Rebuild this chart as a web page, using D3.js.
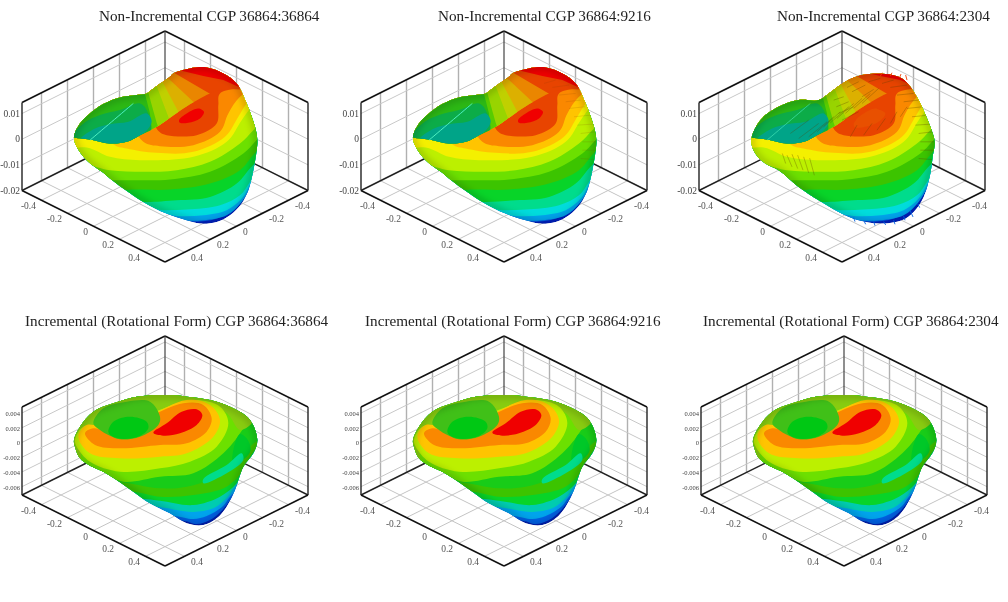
<!DOCTYPE html>
<html>
<head>
<meta charset="utf-8">
<script src="https://cdn.jsdelivr.net/npm/d3@7"></script>
<style>
  html, body { margin: 0; padding: 0; background: #fff; }
  svg { display: block; filter: blur(0.6px); }
</style>
</head>
<body>
<svg id="chart" width="1008" height="602"></svg>
<script>
// titles of the six panels
const titles = [
  'Non-Incremental CGP 36864:36864',
  'Non-Incremental CGP 36864:9216',
  'Non-Incremental CGP 36864:2304',
  'Incremental (Rotational Form) CGP 36864:36864',
  'Incremental (Rotational Form) CGP 36864:9216',
  'Incremental (Rotational Form) CGP 36864:2304'
];

// axis ticks
const xyTicks = [-0.4, -0.2, 0, 0.2, 0.4];
const zTicksTop = [-0.02, -0.01, 0, 0.01];
const zTicksBottom = [-0.006, -0.004, -0.002, 0, 0.002, 0.004];

// surface outlines and colour bands in the view plane of a panel
const nonIncOutline = [[222,410],[240,370],[270,340],[310,312],[360,292],[410,285],[440,280],[460,265],[510,230],[520,220],[570,205],[620,202],[670,220],[710,250],[740,310],[765,380],[772,420],[770,450],[760,510],[745,570],[725,610],[690,645],[650,665],[600,670],[560,660],[500,640],[430,605],[370,565],[330,535],[310,518],[260,480],[230,440]];
const coarseOutline = [[223,420],[250,360],[305,320],[365,300],[425,300],[455,280],[505,245],[555,225],[625,222],[675,235],[700,260],[730,310],[760,380],[773,425],[767,470],[760,520],[740,590],[710,635],[675,660],[605,670],[545,660],[485,635],[425,600],[365,560],[305,510],[265,490],[235,460]];
const incOutline = [[222,420],[240,380],[280,335],[340,310],[410,290],[510,285],[560,290],[630,300],[700,325],[750,360],[772,420],[760,460],[730,500],[705,570],[680,620],[650,655],[610,675],[560,670],[510,640],[450,610],[400,575],[350,540],[310,515],[270,497],[240,475],[225,440]];

const nonIncFront = [
  [[500,660],[600,664],[660,652],[705,622],[745,575],[800,500]],
  [[480,650],[540,660],[610,660],[680,645],[725,605],[755,555],[800,480]],
  [[470,640],[540,648],[610,645],[680,630],[725,595],[755,545],[800,475]],
  [[440,625],[490,630],[560,628],[660,615],[720,585],[750,545],[800,470]],
  [[400,600],[430,605],[530,600],[630,590],[710,550],[745,510],[800,440]],
  [[360,570],[400,568],[510,568],[630,550],[720,510],[755,470],[800,410]],
  [[340,540],[390,540],[510,538],[630,515],[730,460],[765,425],[800,380]],
  [[250,492],[330,510],[430,515],[530,510],[630,485],[720,430],[760,390],[800,350]],
  [[215,440],[300,478],[400,482],[580,480],[680,430],[730,370],[760,335],[800,290]],
  [[260,442],[330,470],[420,480],[580,470],[680,425],[725,360],[755,320],[800,280]],
  [[340,432],[380,445],[470,458],[580,455],[675,410],[715,350],[745,305],[800,270]],
  [[430,425],[480,438],[580,435],[660,395],[685,340],[720,290],[800,240]],
  [[478,395],[500,405],[590,405],[650,370],[655,315],[660,280],[800,240]]
];
const nonIncFrontColours = ['blue','sky','cyan','sea','green','olive','lime','yellowLime','yellowLime','yellow','amber','orange','darkOrange'];
const nonIncFold = [[180,400],[222,412],[270,418],[330,430],[380,425],[420,405],[478,375],[550,325],[630,280],[670,268],[730,268],[800,260],[820,100],[100,100]];
const nonIncBackBands = ['red','ochreOrange','ochre','ochreLime','limeDark','greenLime','bowlGreen','bowlMid','bowlTeal'];
const nonIncBack = [
  [[545,212],[610,228],[670,240],[720,262],[800,250],[820,100],[500,100]],
  [[500,205],[680,310],[400,650],[100,650],[100,100],[400,100]],
  [[480,222],[510,240],[580,305],[610,335],[400,650],[100,650],[100,100],[400,100]],
  [[478,228],[490,250],[535,335],[555,370],[400,650],[100,650],[100,100],[400,100]],
  [[455,235],[470,258],[505,350],[520,390],[400,650],[100,650],[100,100],[400,100]],
  [[430,250],[445,278],[470,368],[485,410],[400,650],[100,650],[100,100],[400,100]],
  [[425,260],[435,282],[450,340],[455,410],[440,460],[100,650],[100,100],[400,100]],
  [[200,430],[250,370],[300,345],[360,330],[420,310],[445,340],[450,400],[350,450],[250,450]],
  [[240,420],[285,385],[330,372],[385,365],[440,340],[455,365],[420,410],[370,430],[300,440]]
];
const nonIncEye = [[537,360],[560,340],[595,325],[612,335],[600,355],[565,368],[540,368]];
const nonIncSeam = [[270,420],[335,365],[400,310]];

const incBands = ['blue','sky','teal','green','olive','greenMid','lime','rim','yellowLime','amber','orange','red','bowlOuter','bowlInner'];
const incContours = [
  [[550,662],[590,672],[630,660],[665,632],[700,590],[800,500],[820,100],[100,100],[100,662]],
  [[520,648],[580,657],[620,648],[665,622],[695,585],[800,490],[820,100],[100,100],[100,648]],
  [[470,620],[530,630],[580,636],[640,625],[680,595],[705,560],[800,470],[820,100],[100,100],[100,620]],
  [[430,597],[480,602],[580,615],[660,590],[710,550],[735,510],[800,440],[820,100],[100,100],[100,597]],
  [[400,575],[480,590],[580,585],[680,560],[730,510],[750,470],[800,400],[820,100],[100,100],[100,575]],
  [[350,545],[480,565],[560,560],[640,535],[710,485],[750,440],[800,390],[820,100],[100,100],[100,545]],
  [[210,470],[310,520],[370,545],[480,530],[580,520],[670,460],[720,400],[735,370],[700,310],[600,270],[400,270],[250,330],[200,400]],
  [[205,480],[240,480],[240,420],[260,400],[330,400],[450,380],[600,320],[680,340],[720,390],[760,360],[700,290],[500,260],[300,280],[200,380]],
  [[225,420],[230,440],[270,485],[360,515],[480,505],[570,485],[650,440],[685,370],[660,320],[580,300],[450,340],[330,380],[250,380]],
  [[235,410],[270,460],[360,475],[480,470],[560,460],[640,410],[660,360],[630,315],[560,300],[440,350],[330,385],[260,375]],
  [[255,400],[285,435],[360,445],[480,435],[560,430],[620,395],[635,355],[610,315],[550,310],[450,350],[350,400],[280,385]],
  [[460,398],[500,370],[545,335],[590,328],[607,345],[590,375],[540,400],[490,407]],
  [[280,370],[310,325],[380,305],[450,305],[480,350],[475,375],[420,410],[360,418],[325,405],[300,390]],
  [[325,395],[340,365],[390,350],[440,365],[445,385],[420,408],[370,417],[335,408]]
];
const incBulge = [[700,450],[720,402],[740,415],[752,450],[735,475],[700,490]];
const incSea = [[610,537],[680,495],[725,460],[730,480],[680,520],[610,550]];

// coarse solution artefacts of the 2304 panel
const coarseEye = [[530,372],[555,345],[600,328],[625,340],[605,365],[565,380],[535,382]];
const coarseStreaks = [[330,465,345,500],[345,462,362,505],[362,465,378,510],[380,470,395,518],[398,474,412,525],[316,460,326,490],
  [470,300,500,290],[478,320,515,305],[485,340,530,320],[495,360,545,335],[510,262,545,245],[525,275,565,255],[555,290,590,268],[575,245,610,235],
  [615,250,650,240],[640,262,690,255],[660,285,710,280],[680,305,725,300],[690,325,738,320],[705,350,755,345],[715,375,762,372],[725,400,768,395],[730,425,770,425],[730,450,768,450],[725,475,765,478],
  [340,400,395,360],[365,415,425,370],[395,410,450,365],[420,395,470,350],[440,380,490,335],[460,368,515,320],[480,355,530,310],[505,340,555,295],[530,325,580,280],[555,310,605,265],
  [520,410,540,375],[560,405,585,370],[600,390,625,355],[640,370,660,335],[670,350,690,320]];
const coarseSpikes = [[530,652,534,664],[560,660,566,672],[590,664,594,676],[620,664,626,674],[650,660,654,672],[680,648,684,660],[700,632,708,650],[722,610,728,622]];
const coarseTopSpikes = [[640,228,645,218],[668,232,672,222],[690,240,686,225],[610,228,616,218]];

const width = 1008, height = 602;
const svg = d3.select('#chart');
const defs = svg.append('defs');
defs.append('filter').attr('id', 'soft').attr('x', '-20%').attr('y', '-20%').attr('width', '140%').attr('height', '140%')
  .append('feGaussianBlur').attr('stdDeviation', 3);

const bandColor = {
  blue: '#0060e4', sky: '#00a4ec', cyan: '#00dcdc', sea: '#00dc8c', teal: '#00ccb0', green: '#08d428',
  olive: '#3cc400', greenMid: '#18cc18', lime: '#6ce000', yellowLime: '#bcf000', yellow: '#f4f000',
  amber: '#ffc400', orange: '#fa8800', darkOrange: '#e84400', red: '#f00000',
  ochreOrange: '#ea8600', ochre: '#dcb000', ochreLime: '#c0d000', limeDark: '#98d400', greenLime: '#58cc00',
  bowlGreen: '#2cb814', bowlMid: '#0cac48', bowlTeal: '#00a488',
  rim: '#88cc10', bowlOuter: '#40c018', bowlInner: '#00c814'
};

// one panel: box from the x, y, z scales, surface from the view plane scales
function drawPanel(g, cx, top, bottom, wallTop, wallBottom, zDomain, zTicks, zFont, box) {
  const half = 143;
  const xy = d3.scaleLinear().domain([-1.1, 1.1]).range([cx - half, cx + half]);
  const floor = d3.scaleLinear().domain([-1.1, 1.1]).range([top + (wallBottom - wallTop), bottom]);
  const z = d3.scaleLinear().domain(zDomain).range([0, wallBottom - wallTop]);
  const px = (x, y) => xy(x - y);
  const py = (x, y, zv) => floor(x + y) - z(zv);
  const lim = 0.55, zMin = zDomain[0], zMax = zDomain[1];
  const seg = (a, b, color, w) => g.append('line')
    .attr('x1', px(a[0], a[1])).attr('y1', py(a[0], a[1], a[2]))
    .attr('x2', px(b[0], b[1])).attr('y2', py(b[0], b[1], b[2]))
    .attr('stroke', color).attr('stroke-width', w);

  // grid
  xyTicks.forEach(t => {
    seg([t, -lim, zMin], [t, lim, zMin], '#c4c4c4', 1);
    seg([-lim, t, zMin], [lim, t, zMin], '#c4c4c4', 1);
    seg([t, -lim, zMin], [t, -lim, zMax], '#b0b0b0', 1.4);
    seg([-lim, t, zMin], [-lim, t, zMax], '#b0b0b0', 1.4);
  });
  zTicks.forEach(t => {
    seg([-lim, lim, t], [-lim, -lim, t], '#c8c8c8', 1);
    seg([-lim, -lim, t], [lim, -lim, t], '#c8c8c8', 1);
  });

  // box edges
  seg([-lim, lim, zMax], [-lim, -lim, zMax], '#111', 1.6);
  seg([-lim, -lim, zMax], [lim, -lim, zMax], '#111', 1.6);
  seg([-lim, lim, zMin], [-lim, lim, zMax], '#222', 1.4);
  seg([lim, -lim, zMin], [lim, -lim, zMax], '#222', 1.4);
  seg([-lim, -lim, zMin], [-lim, -lim, zMax], '#333', 1.1);
  seg([-lim, lim, zMin], [-lim, -lim, zMin], '#222', 1.4);
  seg([-lim, -lim, zMin], [lim, -lim, zMin], '#222', 1.4);
  seg([-lim, lim, zMin], [lim, lim, zMin], '#111', 1.6);
  seg([lim, lim, zMin], [lim, -lim, zMin], '#111', 1.6);

  // tick labels
  const label = (x, y, s, anchor) => g.append('text')
    .attr('x', x).attr('y', y).attr('text-anchor', anchor)
    .attr('font-family', '"Liberation Serif", serif').attr('font-size', 9.5).attr('fill', '#555').text(s);
  xyTicks.forEach(t => {
    label(px(t, lim) - 5.5, py(t, lim, zMin) + 9, String(t), 'end');
    label(px(lim, t) + 6.5, py(lim, t, zMin) + 9, String(t), 'start');
  });
  zTicks.forEach(t => {
    g.append('text').attr('x', px(-lim, lim) - 2).attr('y', py(-lim, lim, t) + 3)
      .attr('text-anchor', 'end').attr('font-family', '"Liberation Serif", serif')
      .attr('font-size', zFont).attr('fill', '#444').text(String(t));
  });

  // surface
  const u = d3.scaleLinear().domain([66, 924]).range([cx - half, cx + half]);
  const v = d3.scaleLinear().domain(box).range([top, bottom]);
  const closed = d3.line().x(d => u(d[0])).y(d => v(d[1])).curve(d3.curveCatmullRomClosed.alpha(0.5));
  const straight = d3.line().x(d => u(d[0])).y(d => v(d[1])).curve(d3.curveLinearClosed);
  const open = d3.line().x(d => u(d[0])).y(d => v(d[1])).curve(d3.curveCatmullRom.alpha(0.5));
  return { u, v, closed, straight, open };
}

function clipGroup(g, id, pathD) {
  defs.append('clipPath').attr('id', id).append('path').attr('d', pathD);
  return g.append('g').attr('clip-path', `url(#${id})`);
}

function segments(g, view, list, color, w, opacity) {
  g.selectAll(null).data(list).enter().append('line')
    .attr('x1', d => view.u(d[0])).attr('y1', d => view.v(d[1]))
    .attr('x2', d => view.u(d[2])).attr('y2', d => view.v(d[3]))
    .attr('stroke', color).attr('stroke-width', w).attr('opacity', opacity);
}

// darker rim where the surface turns away from the light
function edgeShade(s, d) {
  s.append('path').attr('d', d).attr('fill', 'none').attr('stroke', '#000')
    .attr('stroke-width', 7).attr('stroke-opacity', 0.16).attr('filter', 'url(#soft)');
}

function nonIncSurface(g, view, id, outline, coarse) {
  const s = clipGroup(g, id, view.closed(outline));
  s.append('path').attr('d', view.closed(outline)).attr('fill', '#0020c0');
  nonIncFront.forEach((b, i) => {
    // bands that reach the lower left edge close round the left, the inner ones close upwards
    const last = i < 10 ? [100, b[0][1]] : [b[0][0] - 60, b[0][1] - 100];
    const closeUp = [[820, 100], [100, 100], last];
    s.append('path').attr('d', view.closed(b.concat(closeUp))).attr('fill', bandColor[nonIncFrontColours[i]]);
  });
  s.append('path').attr('d', view.closed(nonIncEye)).attr('fill', coarse ? '#e85000' : bandColor.red);
  const back = clipGroup(s, id + 'b', view.closed(nonIncFold));
  back.append('rect').attr('width', width).attr('height', height).attr('fill', bandColor.darkOrange);
  nonIncBack.forEach((b, i) => {
    const line = i < 7 ? view.straight : view.closed;
    back.append('path').attr('d', line(b)).attr('fill', bandColor[nonIncBackBands[i]]);
  });
  s.append('path').attr('d', view.open(nonIncSeam)).attr('fill', 'none')
    .attr('stroke', '#50f0c0').attr('stroke-width', coarse ? 0.6 : 1);
  edgeShade(s, view.closed(outline));
  return s;
}

function incSurface(g, view, id) {
  const s = clipGroup(g, id, view.closed(incOutline));
  s.append('path').attr('d', view.closed(incOutline)).attr('fill', '#0020b0');
  incContours.forEach((c, i) => {
    if (i === 8) s.append('path').attr('d', view.closed(incBulge)).attr('fill', '#00c828');
    if (i === 8) s.append('path').attr('d', view.closed(incSea)).attr('fill', bandColor.sea);
    s.append('path').attr('d', view.closed(c)).attr('fill', bandColor[incBands[i]]);
  });
  edgeShade(s, view.closed(incOutline));
}

// title positions
const titleX = [99, 438, 777, 25, 365, 703];
const topCentres = [165, 504, 842];
const bottomCentres = [165, 504, 844];

titles.forEach((t, i) => {
  svg.append('text').attr('x', titleX[i]).attr('y', i < 3 ? 21 : 326)
    .attr('font-family', '"Liberation Serif", serif').attr('font-size', 15.2)
    .attr('fill', '#222').text(t);
});

topCentres.forEach((cx, i) => {
  const g = svg.append('g');
  const view = drawPanel(g, cx, 31, 262, 102, 190, [-0.02, 0.0143], zTicksTop, 9.5, [93, 785]);
  const s = nonIncSurface(g, view, 'top' + i, i === 2 ? coarseOutline : nonIncOutline, i === 2);
  if (i === 1) segments(s, view, coarseStreaks.slice(14, 25), '#804000', 0.6, 0.25);
  if (i === 2) {
    s.append('path').attr('d', view.closed(coarseEye)).attr('fill', '#e85000');
    segments(s, view, coarseStreaks, '#5a4000', 1, 0.3);
    segments(g, view, coarseSpikes, '#0060e0', 1, 0.9);
    segments(g, view, coarseTopSpikes, '#f04000', 1, 0.9);
  }
});

bottomCentres.forEach((cx, i) => {
  const g = svg.append('g');
  const view = drawPanel(g, cx, 336, 566, 407, 495, [-0.00713, 0.00481], zTicksBottom, 6.5, [108, 798]);
  incSurface(g, view, 'bot' + i);
});
</script>
</body>
</html>
